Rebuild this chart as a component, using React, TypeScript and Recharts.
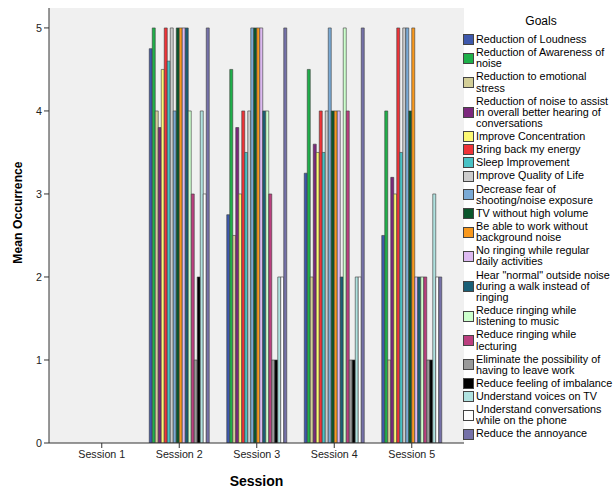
import { BarChart, Bar, XAxis, YAxis, CartesianGrid } from 'recharts';

const sessions = ['Session 1', 'Session 2', 'Session 3', 'Session 4', 'Session 5'];

// legend labels, with the line breaks SPSS used
const goals = [
  'Reduction of Loudness',
  'Reduction of Awareness of\nnoise',
  'Reduction to emotional\nstress',
  'Reduction of noise to assist\nin overall better hearing of\nconversations',
  'Improve Concentration',
  'Bring back my energy',
  'Sleep Improvement',
  'Improve Quality of Life',
  'Decrease fear of\nshooting/noise exposure',
  'TV without high volume',
  'Be able to work without\nbackground noise',
  'No ringing while regular\ndaily activities',
  'Hear "normal" outside noise\nduring a walk instead of\nringing',
  'Reduce ringing while\nlistening to music',
  'Reduce ringing while\nlecturing',
  'Eliminate the possibility of\nhaving to leave work',
  'Reduce feeling of imbalance',
  'Understand voices on TV',
  'Understand conversations\nwhile on the phone',
  'Reduce the annoyance',
];

const goalColors = [
  '#3E58AC', '#1FB04A', '#D3CE97', '#7C287D', '#FBF873',
  '#EF3338', '#48C2C5', '#CCCCCC', '#7AAAD5', '#0A562C',
  '#F8981D', '#DDBAF1', '#1A5F76', '#CCFFCC', '#BB3F7F',
  '#999999', '#000000', '#B0E2E0', '#FFFFFF', '#7571A8',
];

// mean occurrence per goal (same order as goals)
const session1: number[] = [];
const session2 = [4.75, 5, 4, 3.8, 4.5, 5, 4.6, 5, 4, 5, 5, 5, 5, 4, 3, 1, 2, 4, 3, 5];
const session3 = [2.75, 4.5, 2.5, 3.8, 3, 4, 3.5, 4, 5, 5, 5, 5, 4, 4, 3, 1, 1, 2, 2, 5];
const session4 = [3.25, 4.5, 2, 3.6, 3.5, 4, 3.5, 4, 5, 4, 4, 4, 2, 5, 4, 1, 1, 2, 2, 5];
const session5 = [2.5, 4, 1, 3.2, 3, 5, 3.5, 5, 5, 4, 5, 2, 2, 2, 2, 1, 1, 3, 2, 2];

const yTicks = [0, 1, 2, 3, 4, 5];

const sessionValues = [session1, session2, session3, session4, session5];

const data = sessions.map((s, i) => {
  const row: Record<string, string | number | undefined> = { session: s };
  goals.forEach((_, j) => {
    row['g' + j] = sessionValues[i][j];
  });
  return row;
});

const font = 'Arial, "Liberation Sans", sans-serif';

const GoalsLegend = () => (
  <div
    style={{
      position: 'absolute',
      left: 463,
      top: 14,
      width: 150,
      fontFamily: font,
      fontSize: 10.8,
      color: '#000',
    }}
  >
    <div style={{ textAlign: 'center', fontSize: 12, marginBottom: 6, paddingLeft: 6 }}>Goals</div>
    {goals.map((g, i) => (
      <div key={g} style={{ display: 'flex', alignItems: 'center', marginBottom: 1.9 }}>
        <div
          style={{
            width: 9,
            height: 9,
            background: goalColors[i],
            border: '1px solid #444',
            flexShrink: 0,
            marginRight: 2,
          }}
        />
        <div style={{ whiteSpace: 'pre', lineHeight: '11.2px' }}>{g}</div>
      </div>
    ))}
  </div>
);

const YTitle = (props: any) => {
  const vb = props.viewBox || { x: 0, y: 0, width: 0, height: 0 };
  const cx = vb.x + 18;
  const cy = vb.y + vb.height / 2 - 13;
  return (
    <text
      x={cx}
      y={cy}
      transform={`rotate(-90 ${cx} ${cy})`}
      textAnchor="middle"
      dominantBaseline="central"
      style={{ fontFamily: font, fontSize: 12.2, fontWeight: 'bold', fill: '#000' }}
    >
      Mean Occurrence
    </text>
  );
};

const App = () => {
  return (
    <div style={{ position: 'absolute', left: 0, top: 0, width: 613, height: 491, background: '#fff' }}>
      <BarChart
        width={613}
        height={491}
        data={data}
        margin={{ top: 8, right: 149, bottom: 0, left: 0 }}
        barGap={0}
        barCategoryGap={8.75}
      >
        <CartesianGrid fill="#F0F0F0" horizontal={false} vertical={false} />
        <XAxis
          dataKey="session"
          height={48}
          padding={{ left: 14, right: 13.5 }}
          axisLine={{ stroke: '#333' }}
          tickLine={{ stroke: '#333' }}
          tickSize={5}
          tick={{ fontFamily: font, fontSize: 10.7, fill: '#222' }}
          label={{
            value: 'Session',
            position: 'insideBottom',
            offset: 5,
            style: { fontFamily: font, fontSize: 14, fontWeight: 'bold', fill: '#000' },
          }}
        />
        <XAxis xAxisId="top" orientation="top" height={0} tick={false} tickLine={false} axisLine={{ stroke: '#333' }} />
        <YAxis
          width={49}
          domain={[0, 5.24]}
          ticks={yTicks}
          allowDataOverflow
          axisLine={{ stroke: '#333' }}
          tickLine={{ stroke: '#333' }}
          tickSize={5}
          tick={{ fontFamily: font, fontSize: 10.7, fill: '#222' }}
          label={<YTitle />}
        />
        <YAxis yAxisId="right" orientation="right" width={0} tick={false} tickLine={false} axisLine={{ stroke: '#333' }} />
        {goals.map((g, i) => (
          <Bar
            key={g}
            dataKey={'g' + i}
            name={g}
            fill={goalColors[i]}
            stroke="#3a3a3a"
            strokeWidth={0.6}
            isAnimationActive={false}
          />
        ))}
      </BarChart>
      <GoalsLegend />
    </div>
  );
};

export default App;
